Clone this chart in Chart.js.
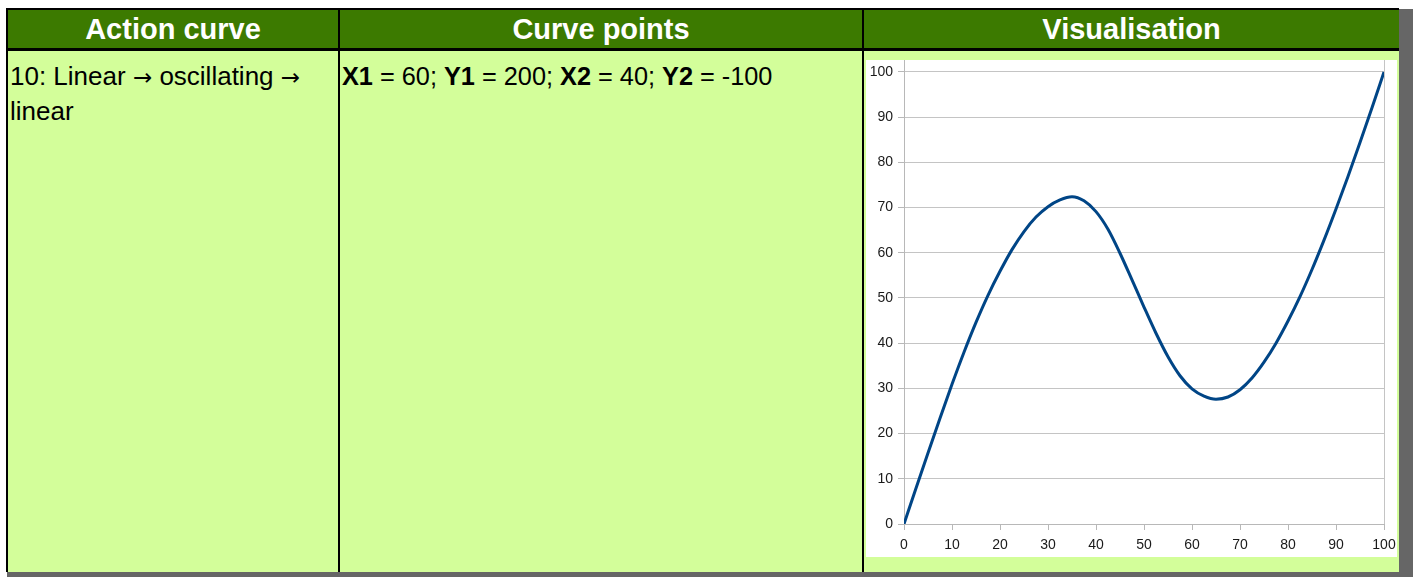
<!DOCTYPE html>
<html>
<head>
<meta charset="utf-8">
<script src="https://cdn.jsdelivr.net/npm/chart.js@4/dist/chart.umd.min.js"></script>
<style>
  html, body { margin: 0; padding: 0; background: #ffffff; }
  body { width: 1413px; height: 577px; position: relative; overflow: hidden; font-family: "Liberation Sans", Arial, sans-serif; }
  .abs { position: absolute; }
  .hdr { color: #ffffff; font-weight: bold; font-size: 29px; line-height: 38px; text-align: center; white-space: nowrap; }
  .cell { color: #000000; font-size: 26px; line-height: 34px; white-space: nowrap; }
  .arr { font-family: "DejaVu Sans", sans-serif; font-size: 23px; }
</style>
</head>
<body>
  <!-- shadow -->
  <div class="abs" style="left:1399px;top:9px;width:14px;height:568px;background:#666666;"></div>
  <div class="abs" style="left:7px;top:572px;width:1406px;height:5px;background:#666666;"></div>
  <!-- table -->
  <div class="abs" style="left:6px;top:8px;width:1393px;height:564px;background:#d3fe9a;"></div>
  <div class="abs" style="left:6px;top:10px;width:1393px;height:38px;background:#3c7a00;"></div>
  <div class="abs" style="left:6px;top:8px;width:1393px;height:2px;background:#000;"></div>
  <div class="abs" style="left:6px;top:48px;width:1393px;height:3px;background:#000;"></div>
  <div class="abs" style="left:6px;top:8px;width:2px;height:564px;background:#000;"></div>
  <div class="abs" style="left:338px;top:8px;width:2px;height:564px;background:#000;"></div>
  <div class="abs" style="left:862px;top:8px;width:2px;height:564px;background:#000;"></div>

  <div class="abs hdr" id="h1" style="left:8px;top:10px;width:330px;"></div>
  <div class="abs hdr" id="h2" style="left:340px;top:10px;width:522px;"></div>
  <div class="abs hdr" id="h3" style="left:864px;top:10px;width:535px;"></div>

  <div class="abs cell" style="left:10px;top:59px;">10: Linear <span class="arr">→</span> oscillating <span class="arr">→</span><br>linear</div>
  <div class="abs cell" style="left:342px;top:59px;font-size:25.3px;"><b>X1</b> = 60; <b>Y1</b> = 200; <b>X2</b> = 40; <b>Y2</b> = -100</div>

  <!-- chart box -->
  <div class="abs" style="left:866px;top:60px;width:531px;height:497px;background:#ffffff;">
    <canvas id="c" width="531" height="497" style="display:block;"></canvas>
  </div>

<script>
const headers = ["Action curve", "Curve points", "Visualisation"];
document.getElementById('h1').textContent = headers[0];
document.getElementById('h2').textContent = headers[1];
document.getElementById('h3').textContent = headers[2];

// values
const curveX = [0, 2.5, 5, 7.5, 10, 12.5, 15, 17.5, 20, 22.5, 25, 27.5, 30, 32.5, 35, 37.5, 40, 42.5, 45, 47.5, 50,
                52.5, 55, 57.5, 60, 62.5, 65, 67.5, 70, 72.5, 75, 77.5, 80, 82.5, 85, 87.5, 90, 92.5, 95, 97.5, 100];
const curveY = [0, 7.9, 15.7, 23.4, 30.9, 38.0, 44.6, 50.6, 55.9, 60.7, 64.7, 67.9, 70.2, 71.7, 72.4, 71.5, 69.1, 65.2, 59.9, 54.0, 48.0,
                42.2, 37.0, 32.8, 29.9, 28.3, 27.6, 28.1, 29.7, 32.3, 35.8, 40.0, 44.9, 50.3, 56.3, 62.8, 69.7, 76.9, 84.4, 92.1, 100];
const xTicks = [0, 10, 20, 30, 40, 50, 60, 70, 80, 90, 100];
const yTicks = [0, 10, 20, 30, 40, 50, 60, 70, 80, 90, 100];

const gridC = '#c4c4c4';
const axisC = '#b8b8b8';
const points = curveX.map((x, i) => ({ x: x, y: curveY[i] }));

new Chart(document.getElementById('c'), {
  type: 'line',
  data: {
    datasets: [{
      data: points,
      borderColor: '#004586',
      borderWidth: 3,
      pointRadius: 0,
      fill: false,
      cubicInterpolationMode: 'monotone'
    }]
  },
  options: {
    responsive: false,
    animation: false,
    events: [],
    layout: { padding: { left: 0, right: 13, top: 0, bottom: 0 } },
    plugins: { legend: { display: false }, tooltip: { enabled: false } },
    scales: {
      x: {
        type: 'linear',
        min: xTicks[0],
        max: xTicks[xTicks.length - 1],
        afterBuildTicks: s => { s.ticks = xTicks.map(v => ({ value: v })); },
        afterFit: s => { s.height = 33; s.paddingLeft = 0; s.paddingRight = 0; },
        ticks: { padding: 7, color: '#1a1a1a', font: { family: 'Liberation Sans', size: 14 }, maxRotation: 0, autoSkip: false },
        grid: {
          color: ctx => (ctx.tick && ctx.tick.value === 100) ? gridC : 'rgba(0,0,0,0)',
          tickColor: axisC,
          tickLength: 6,
          lineWidth: 1
        },
        border: { display: true, color: axisC, width: 1 }
      },
      y: {
        type: 'linear',
        min: 0,
        max: 102.65,
        bounds: 'data',
        afterBuildTicks: s => { s.ticks = yTicks.map(v => ({ value: v })); },
        afterFit: s => { s.width = 38; s.paddingTop = 0; s.paddingBottom = 0; },
        ticks: { padding: 5, color: '#1a1a1a', font: { family: 'Liberation Sans', size: 14 }, autoSkip: false },
        grid: { color: gridC, tickColor: axisC, tickLength: 6, lineWidth: 1 },
        border: { display: true, color: axisC, width: 1 }
      }
    }
  }
});
</script>
</body>
</html>
